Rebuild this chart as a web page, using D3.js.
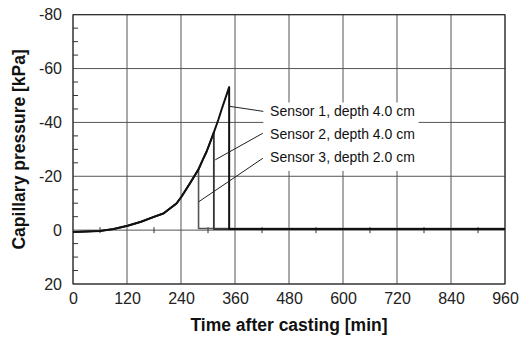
<!DOCTYPE html>
<html>
<head>
<meta charset="utf-8">
<script src="https://cdn.jsdelivr.net/npm/d3@7"></script>
<style>
  body { margin: 0; background: #fff; }
  svg { display: block; font-family: "Liberation Sans", Arial, sans-serif; }
</style>
</head>
<body>
<svg id="theSvg"></svg>
<script>
// values (time in min, pressure in kPa)
const xTicks = [0, 120, 240, 360, 480, 600, 720, 840, 960];
const yTicks = [-80, -60, -40, -20, 0, 20];
const yMinorTicks = [-75, -70, -65, -55, -50, -45, -35, -30, -25, -15, -10, -5, 5, 10, 15];
const zeroLineTicks = [60, 180, 300, 420, 540, 660, 780, 900];

const sensor3Time = [0, 60, 90, 121, 151, 181, 201, 216, 230, 241, 260, 279, 279, 960];
const sensor3Value = [0.7, 0.3, -0.4, -1.6, -3.1, -5, -6.2, -8.1, -9.9, -12.4, -17.4, -22.6, -0.6, -0.6];
const sensor2Time = [0, 60, 90, 121, 151, 181, 201, 216, 230, 241, 260, 279, 288, 297, 313, 313, 960];
const sensor2Value = [0.7, 0.3, -0.4, -1.6, -3.1, -5, -6.2, -8.1, -9.9, -12.4, -17.4, -22.6, -26, -29.2, -36.3, -0.4, -0.4];
const sensor1Time = [0, 60, 90, 121, 151, 181, 201, 216, 230, 241, 260, 279, 288, 297, 313, 323, 330, 347, 347, 960];
const sensor1Value = [0.7, 0.3, -0.4, -1.6, -3.1, -5, -6.2, -8.1, -9.9, -12.4, -17.4, -22.6, -26, -29.2, -36.3, -41, -44.7, -53.1, -0.4, -0.4];

const labelNames = ["Sensor 1, depth 4.0 cm", "Sensor 2, depth 4.0 cm", "Sensor 3, depth 2.0 cm"];
// leader lines: [t0, p0, t1, p1]
const labelLeaders = [
  [347, -46, 423, -44.1],
  [316, -26.1, 422, -36],
  [279, -10.5, 422, -26.7]
];
const labelAt = [[438, -42.5], [438, -34], [438, -25.3]];

const width = 521, height = 337;
const margin = {top: 14.7, right: 16, bottom: 53, left: 73};

const svg = d3.select("#theSvg")
  .attr("width", width)
  .attr("height", height)
  .attr("viewBox", [0, 0, width, height]);

const x = d3.scaleLinear()
  .domain([0, 960])
  .range([margin.left, width - margin.right]);

const y = d3.scaleLinear()
  .domain([-80, 20])
  .range([margin.top, height - margin.bottom]);

// grid
svg.append("g").attr("class", "grid")
  .attr("stroke", "#555").attr("stroke-width", 1)
  .call(g => g.selectAll(".v").data(xTicks).join("line")
    .attr("x1", d => x(d)).attr("x2", d => x(d))
    .attr("y1", y(-80)).attr("y2", y(20)))
  .call(g => g.selectAll(".h").data(yTicks).join("line")
    .attr("x1", x(0)).attr("x2", x(960))
    .attr("y1", d => y(d)).attr("y2", d => y(d)));

// minor ticks on the left axis and on the zero line
svg.append("g").attr("stroke", "#333").attr("stroke-width", 1)
  .call(g => g.selectAll(".ym").data(yMinorTicks).join("line")
    .attr("x1", x(0)).attr("x2", x(0) + 5)
    .attr("y1", d => y(d)).attr("y2", d => y(d)))
  .call(g => g.selectAll(".zt").data(zeroLineTicks).join("line")
    .attr("x1", d => x(d)).attr("x2", d => x(d))
    .attr("y1", y(0) - 3).attr("y2", y(0) + 3));

// frame
svg.append("rect")
  .attr("x", x(0)).attr("y", y(-80))
  .attr("width", x(960) - x(0)).attr("height", y(20) - y(-80))
  .attr("fill", "none").attr("stroke", "#222").attr("stroke-width", 1);

// axes labels (plain hyphen for the minus sign)
const xAxis = svg.append("g")
  .attr("transform", "translate(0," + y(20) + ")")
  .call(d3.axisBottom(x).tickValues(xTicks).tickSize(0).tickPadding(9).tickFormat(d => String(d)))
  .call(g => g.select(".domain").remove());

const yAxis = svg.append("g")
  .attr("transform", "translate(" + x(0) + ",0)")
  .call(d3.axisLeft(y).tickValues(yTicks).tickSize(0).tickPadding(11).tickFormat(d => String(d)))
  .call(g => g.select(".domain").remove());

svg.selectAll(".tick text")
  .attr("font-size", 16)
  .attr("font-family", "Liberation Sans, Arial, sans-serif")
  .attr("fill", "#222");

// white box behind the labels
svg.append("rect")
  .attr("x", x(423)).attr("y", y(-47.4))
  .attr("width", x(768) - x(423)).attr("height", y(-22) - y(-47.4))
  .attr("fill", "#fff");

// curves
let line = d3.line()
  .x(d => x(d[0]))
  .y(d => y(d[1]));

const series = [
  {t: sensor3Time, v: sensor3Value, colour: "#555", w: 1.6},
  {t: sensor2Time, v: sensor2Value, colour: "#333", w: 1.8},
  {t: sensor1Time, v: sensor1Value, colour: "#111", w: 2}
];

svg.append("g")
  .attr("fill", "none")
  .attr("stroke-linejoin", "round")
  .selectAll("path")
  .data(series)
  .join("path")
  .attr("stroke", d => d.colour)
  .attr("stroke-width", d => d.w)
  .attr("d", d => line(d.t.map((t, i) => [t, d.v[i]])));

// annotations
svg.append("g")
  .attr("stroke", "#222").attr("stroke-width", 1)
  .selectAll("line")
  .data(labelLeaders)
  .join("line")
  .attr("x1", d => x(d[0])).attr("y1", d => y(d[1]))
  .attr("x2", d => x(d[2])).attr("y2", d => y(d[3]));

svg.append("g")
  .selectAll("text")
  .data(labelNames)
  .join("text")
  .attr("x", (d, i) => x(labelAt[i][0]))
  .attr("y", (d, i) => y(labelAt[i][1]))
  .attr("font-size", 14)
  .attr("fill", "#111")
  .text(d => d);

// titles
svg.append("text")
  .attr("x", x(480)).attr("y", 331)
  .attr("text-anchor", "middle")
  .attr("font-size", 17.5).attr("font-weight", "bold").attr("fill", "#111")
  .text("Time after casting [min]");

svg.append("text")
  .attr("transform", "translate(24.5," + y(-30) + ") rotate(-90)")
  .attr("text-anchor", "middle")
  .attr("font-size", 17.5).attr("font-weight", "bold").attr("fill", "#111")
  .text("Capillary pressure [kPa]");
</script>
</body>
</html>
